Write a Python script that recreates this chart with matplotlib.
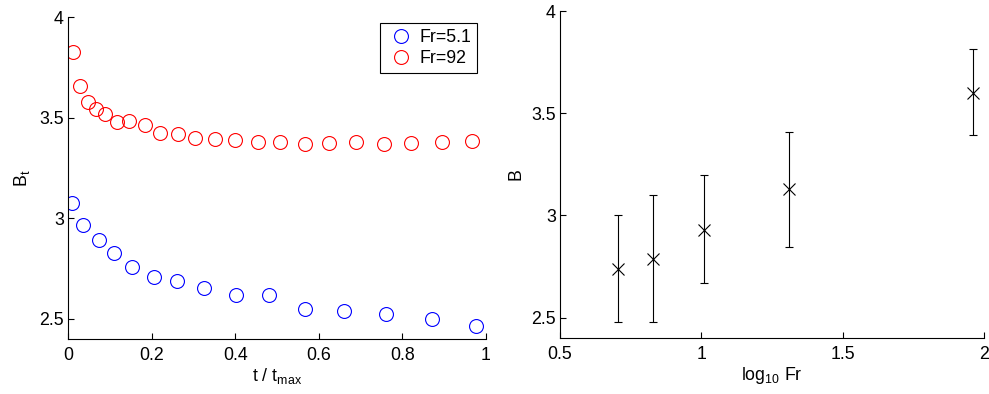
import numpy as np
import matplotlib
matplotlib.use('Agg')
import matplotlib.pyplot as plt
from matplotlib.ticker import FormatStrFormatter

plt.rcParams['font.family'] = ['Liberation Sans', 'DejaVu Sans']
plt.rcParams['mathtext.default'] = 'regular'
plt.rcParams['font.size'] = 12.8

# left panel: B_t against t / t_max
t_low = [0.010, 0.037, 0.073, 0.111, 0.154, 0.205, 0.261, 0.326, 0.401, 0.480,
         0.568, 0.660, 0.761, 0.871, 0.977]
b_low = [3.076, 2.965, 2.894, 2.828, 2.758, 2.706, 2.687, 2.655, 2.617, 2.620,
         2.549, 2.541, 2.522, 2.501, 2.466]
t_high = [0.011, 0.028, 0.047, 0.068, 0.089, 0.117, 0.147, 0.184, 0.221, 0.262,
          0.305, 0.352, 0.400, 0.455, 0.507, 0.568, 0.625, 0.690, 0.755, 0.821,
          0.895, 0.967]
b_high = [3.827, 3.657, 3.579, 3.542, 3.516, 3.479, 3.484, 3.461, 3.425, 3.420,
          3.400, 3.396, 3.391, 3.380, 3.378, 3.370, 3.373, 3.381, 3.370, 3.373,
          3.381, 3.385]
labels = ['Fr=5.1', 'Fr=92']

# right panel: B against log10 Fr
log_fr = [0.706, 0.830, 1.008, 1.311, 1.962]
b_mean = [2.736, 2.786, 2.930, 3.130, 3.601]
b_lower = [2.477, 2.477, 2.668, 2.847, 3.391]
b_upper = [3.000, 3.099, 3.200, 3.409, 3.813]

W, H = 989, 394
fig = plt.figure(figsize=(W / 100, H / 100), dpi=100)

ax1 = fig.add_axes([68 / W, 1 - 339 / H, (486 - 68) / W, (339 - 17) / H])
ax2 = fig.add_axes([560 / W, 1 - 338 / H, (984 - 560) / W, (338 - 11) / H])

ax1.plot(t_low, b_low, 'o', mfc='none', mec='#0000ff', ms=10, mew=0.8,
         linestyle='none', label=labels[0])
ax1.plot(t_high, b_high, 'o', mfc='none', mec='#ff0000', ms=10, mew=0.8,
         linestyle='none', label=labels[1])
ax1.set_xlim(0, 1)
ax1.set_ylim(2.4, 4)
ax1.set_xticks([0, 0.2, 0.4, 0.6, 0.8, 1])
ax1.set_yticks([2.5, 3, 3.5, 4])
ax1.set_xlabel('t / t$_{max}$', labelpad=1)
ax1.set_ylabel('B$_t$', labelpad=5)
leg = ax1.legend(loc='upper right', bbox_to_anchor=(0.978, 0.98), fancybox=False,
                 edgecolor='black', framealpha=1, handletextpad=0.2,
                 borderpad=0.3, labelspacing=0.25, handlelength=1.7,
                 borderaxespad=0)
leg.get_frame().set_linewidth(0.8)

mean = np.array(b_mean)
yerr = [mean - np.array(b_lower), np.array(b_upper) - mean]
ax2.errorbar(log_fr, b_mean, yerr=yerr, fmt='x', color='black', ms=8, mew=0.8,
             elinewidth=0.8, capsize=3, capthick=0.8)
ax2.set_xlim(0.5, 2)
ax2.set_ylim(2.4, 4)
ax2.set_xticks([0.5, 1, 1.5, 2])
ax2.set_yticks([2.5, 3, 3.5, 4])
ax2.set_xlabel('log$_{10}$ Fr', labelpad=1)
ax2.set_ylabel('B', labelpad=5)

for ax in (ax1, ax2):
    ax.spines['top'].set_visible(False)
    ax.spines['right'].set_visible(False)
    for s in ('left', 'bottom'):
        ax.spines[s].set_linewidth(0.8)
    ax.tick_params(direction='in', length=4, width=0.8)
    ax.tick_params(axis='x', pad=6)
    ax.tick_params(axis='y', pad=3)
    ax.xaxis.set_major_formatter(FormatStrFormatter('%g'))
    ax.yaxis.set_major_formatter(FormatStrFormatter('%g'))

fig.savefig('out.png', dpi=100)
